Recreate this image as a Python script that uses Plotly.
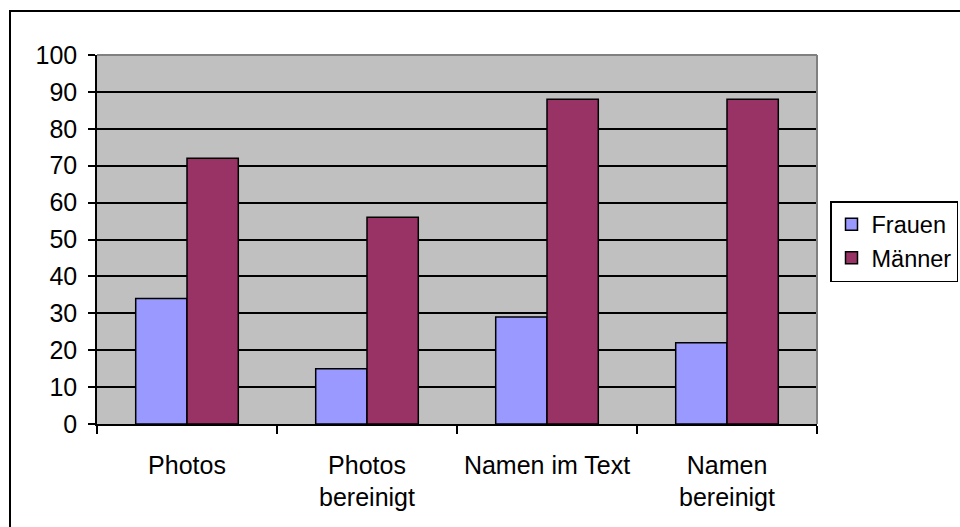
import plotly.graph_objects as go

categories = ["Photos", "Photos<br>bereinigt", "Namen im Text", "Namen<br>bereinigt"]
frauen = [34, 15, 29, 22]
maenner = [72, 56, 88, 88]
series_names = ["Frauen", "Männer"]
y_ticks = [0, 10, 20, 30, 40, 50, 60, 70, 80, 90, 100]

FONT = "Liberation Sans, Arial, sans-serif"
FS = 25

fig = go.Figure()
fig.add_trace(go.Bar(x=categories, y=frauen, name=series_names[0],
                     marker=dict(color="#9999FF", line=dict(color="black", width=1.5)),
                     legendgroup="a"))
fig.add_trace(go.Bar(x=categories, y=maenner, name=series_names[1],
                     marker=dict(color="#993366", line=dict(color="black", width=1.5)),
                     legendgroup="b"))

L, R, T, B = 97, 143, 55, 103
W, H = 960, 527
pw, ph = W - L - R, H - T - B

def px_x(p):
    return (p - L) / pw

def px_y(p):
    return (H - B - p) / ph

fig.update_layout(
    width=W, height=H,
    margin=dict(l=L, r=R, t=T, b=B, pad=0, autoexpand=False),
    paper_bgcolor="white",
    plot_bgcolor="#C0C0C0",
    font=dict(family=FONT, size=FS, color="black"),
    barmode="group",
    bargap=0.43,
    bargroupgap=0,
    showlegend=True,
    legend=dict(x=px_x(830), y=px_y(201), xanchor="left", yanchor="top",
                bgcolor="white", bordercolor="black", borderwidth=1.5,
                font=dict(family=FONT, size=23.5, color="black"),
                traceorder="grouped", tracegroupgap=0),
    xaxis=dict(showline=True, linecolor="black", linewidth=1.5,
               ticks="outside", ticklen=8, tickwidth=1.5, tickcolor="black",
               tickson="boundaries", showgrid=False, ticklabelstandoff=18,
               tickfont=dict(family=FONT, size=FS, color="black")),
    yaxis=dict(range=[0, 100], tickvals=y_ticks, showline=True, linecolor="black",
               linewidth=1.5, ticks="outside", ticklen=7, tickwidth=1.5,
               tickcolor="black", showgrid=True, gridcolor="black", gridwidth=1.5,
               zeroline=False, ticklabelstandoff=6,
               tickfont=dict(family=FONT, size=FS, color="black")),
    shapes=[
        dict(type="line", xref="paper", yref="paper", x0=0, x1=1, y0=1, y1=1,
             line=dict(color="#808080", width=2), layer="above"),
        dict(type="line", xref="paper", yref="paper", x0=1, x1=1, y0=0, y1=1,
             line=dict(color="#808080", width=2), layer="above"),
        dict(type="rect", xref="paper", yref="paper",
             x0=px_x(10), x1=px_x(990), y0=px_y(560), y1=px_y(11),
             line=dict(color="black", width=2), fillcolor="rgba(0,0,0,0)"),
    ],
)

fig.write_html("out.html", config={"displayModeBar": False},
               post_script="document.body.style.margin='0px';")
